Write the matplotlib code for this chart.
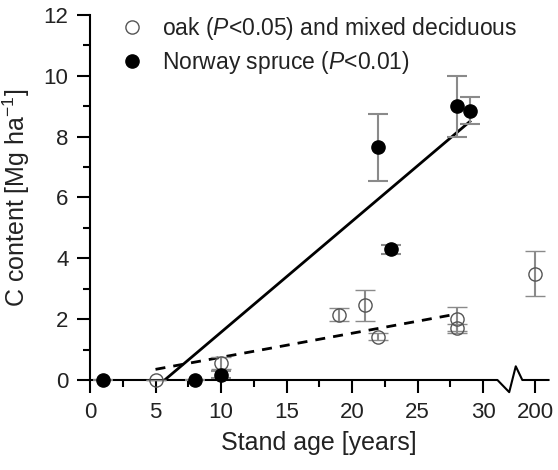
import matplotlib
matplotlib.use('Agg')
import matplotlib.pyplot as plt
from matplotlib.lines import Line2D

plt.rcParams['font.family'] = ['Liberation Sans', 'DejaVu Sans']
plt.rcParams['mathtext.fontset'] = 'custom'
plt.rcParams['mathtext.rm'] = 'Liberation Sans'
plt.rcParams['mathtext.it'] = 'Liberation Sans:italic'

txt = '#222222'
grey = '#8a8a8a'

# Norway spruce
spruce_age = [1, 8, 10, 22, 23, 28, 29]
spruce_c = [0.0, 0.0, 0.18, 7.65, 4.3, 9.0, 8.85]
spruce_err = [0.0, 0.0, 0.12, 1.1, 0.15, 1.0, 0.45]

# oak and mixed deciduous (200-year stand drawn at the axis break position)
oak_age = [5, 10, 19, 21, 22, 28, 28, 34]
oak_c = [0.0, 0.55, 2.15, 2.45, 1.42, 2.0, 1.7, 3.5]
oak_err = [0.0, 0.2, 0.22, 0.5, 0.12, 0.4, 0.15, 0.75]

# regression lines (start, end)
spruce_fit_x = [5.7, 29]
spruce_fit_y = [0.0, 8.5]
oak_fit_x = [5, 28]
oak_fit_y = [0.35, 2.17]

xticks = [0, 5, 10, 15, 20, 25, 30, 34]
xticklabels = ['0', '5', '10', '15', '20', '25', '30', '200']

fig = plt.figure(figsize=(5.58, 4.70), dpi=100)
ax = fig.add_axes([0.1613, 0.1915, 0.8217, 0.7766])

ax.plot(spruce_fit_x, spruce_fit_y, color='black', lw=2.0, zorder=2)
ax.plot(oak_fit_x, oak_fit_y, color='black', lw=2.0, dashes=(3.6, 2.9), zorder=2)

ax.errorbar(oak_age, oak_c, yerr=oak_err, fmt='o', ms=9.5, mfc='none',
            mec='#555555', mew=1.0, ecolor=grey, elinewidth=1.5,
            capsize=7, capthick=1.5, clip_on=False, zorder=3)
ax.errorbar(spruce_age, spruce_c, yerr=spruce_err, fmt='o', ms=9.5,
            mfc='black', mec='black', ecolor=grey, elinewidth=1.5,
            capsize=7, capthick=1.5, clip_on=False, zorder=4)

# x axis line with a break before 200
ax.spines['bottom'].set_visible(False)
ax.spines['top'].set_visible(False)
ax.spines['right'].set_visible(False)
ax.spines['left'].set_linewidth(1.5)
ax.plot([0, 31.1, 32.0, 32.5, 33.0, 35], [0, 0, -0.4, 0.45, 0, 0],
        color='black', lw=1.5, clip_on=False, zorder=1)

ax.set_xlim(0, 35)
ax.set_ylim(0, 12)
ax.set_xticks(xticks)
ax.set_xticklabels(xticklabels)
ax.set_xticks([2.5, 7.5, 12.5, 17.5, 22.5, 27.5], minor=True)
ax.set_yticks(range(0, 13, 2))
ax.set_yticks(range(1, 12, 2), minor=True)
ax.tick_params(which='major', length=9.5, width=1.5, labelsize=16,
               colors='black', labelcolor=txt, pad=6)
ax.tick_params(which='minor', length=5, width=1.5, colors='black')

ax.set_xlabel('Stand age [years]', fontsize=18, color=txt, labelpad=6)
ax.set_ylabel('C content [Mg ha$^{-1}$]', fontsize=18, color=txt, labelpad=8)

handles = [
    Line2D([], [], ls='none', marker='o', ms=9.5, mfc='none', mec='#555555', mew=1.0),
    Line2D([], [], ls='none', marker='o', ms=9.5, mfc='black', mec='black'),
]
labels = ['oak ($\\it{P}$<0.05) and mixed deciduous',
          'Norway spruce ($\\it{P}$<0.01)']
leg = ax.legend(handles, labels, loc='upper left', bbox_to_anchor=(0.066, 1.0),
                frameon=False, fontsize=16.5, handlelength=1.0,
                handletextpad=0.8, labelspacing=0.3, borderpad=0,
                borderaxespad=0)
for t in leg.get_texts():
    t.set_color(txt)

fig.savefig('out.png', dpi=100)
